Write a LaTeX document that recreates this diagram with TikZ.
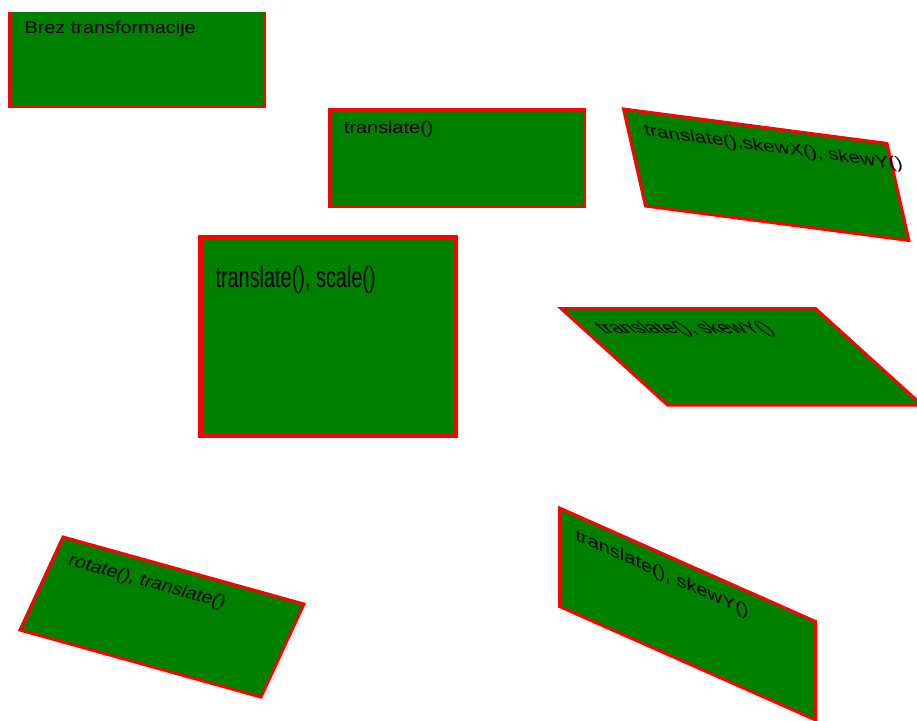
\documentclass[tikz,border=0pt]{standalone}
\usepackage{fontspec}
\setmainfont{Liberation Sans}
\definecolor{boxgreen}{HTML}{008000}
\definecolor{boxred}{HTML}{FF0000}
\tikzset{
  panel/.style={fill=boxgreen, draw=boxred, line width=3pt},
  thickpanel/.style={panel, line width=5pt},
  lbl/.style={anchor=base west, inner sep=0pt, outer sep=0pt,
    font=\fontsize{17}{20}\selectfont, text=black, xscale=1.17, transform shape}
}
\begin{document}
\begin{tikzpicture}[x=1pt,y=-1pt]
\useasboundingbox (0,0) rectangle (917,720);
% 1: no transformation (top clipped)
\begin{scope}
  \clip (0,12) rectangle (917,720);
  \draw[panel] (9.5,8) rectangle (264,106.5);
\end{scope}
\node[lbl] (t1) at (24.5,33) {Brez transformacije};
% 2: translate
\draw[panel] (329,109) rectangle (584.5,206.5);
\node[lbl] (t2) at (344,133.5) {translate()};
% 3: translate, skewX, skewY
\begin{scope}[cm={1.033,-0.135,-0.224,0.99,(623.5,109)}]
  \draw[panel] (0,0) rectangle (255,98);
  \node[lbl] (t3) at (16,25) {translate(),skewX(), skewY()};
\end{scope}
% 4: translate, scale
\draw[thickpanel] (200.5,237.5) rectangle (455.5,435.5);
\node[lbl, yscale=1.73] (t4) at (215.5,287) {translate(), scale()};
% 5: translate, skew (horizontal shear)
\begin{scope}
  \clip (0,0) rectangle (917,720);
  \begin{scope}[cm={0.998,0,-1.087,0.985,(561,308.5)}]
    \draw[panel] (0,0) rectangle (255,98);
    \node[lbl] (t5) at (16,25) {translate(), skewY()};
  \end{scope}
\end{scope}
% 6: rotate, translate
\begin{scope}[cm={0.945,-0.263,0.439,0.949,(63,537)}]
  \draw[panel] (0,0) rectangle (255,98);
  \node[lbl] (t6) at (16,25) {rotate(), translate()};
\end{scope}
% 7: translate, skewY
\begin{scope}
  \clip (0,0) rectangle (917,720);
  \begin{scope}[cm={1.004,-0.445,0,1.005,(559.5,508)}]
    \draw[panel] (0,0) rectangle (255,98);
    \node[lbl] (t7) at (16,25) {translate(), skewY()};
  \end{scope}
\end{scope}
\end{tikzpicture}
\end{document}
